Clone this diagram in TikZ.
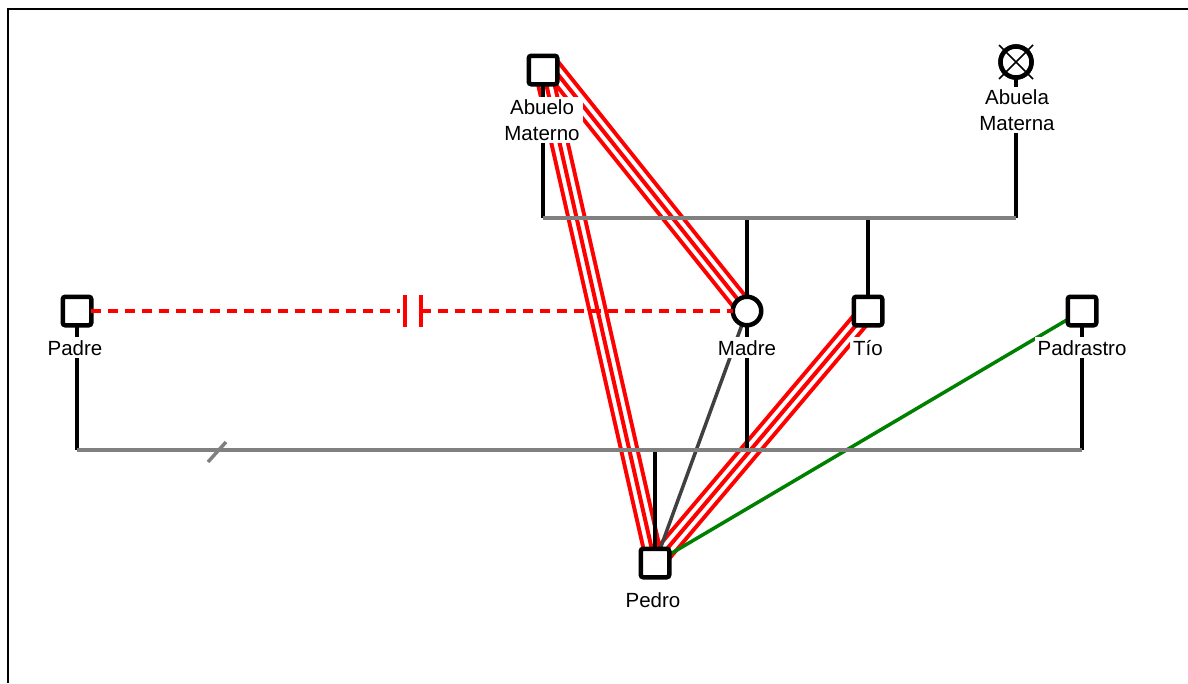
\documentclass[tikz,border=0pt]{standalone}
\usepackage{fontspec}
\setmainfont{Liberation Sans}
\begin{document}
\begin{tikzpicture}[x=1pt,y=-1pt,
  sq/.style={draw=black,fill=white,line width=4.5,minimum size=28.5,inner sep=0,rounded corners=2.5,outer sep=0},
  ci/.style={draw=black,fill=white,line width=4.5,circle,minimum size=28.5,inner sep=0,outer sep=0},
  lbl/.style={fill=white,inner sep=3,font=\fontsize{20.5}{25.5}\selectfont,align=center,anchor=base},
  famline/.style={draw=black,line width=4},
  unionline/.style={draw=gray,line width=4.5},
  tripleline/.style={preaction={draw=red,line width=20},preaction={draw=white,line width=12},draw=red,line width=4},
  cutline/.style={draw=red,line width=4,dash pattern=on 10 off 7},
  cutbar/.style={draw=red,line width=4.5},
  frameline/.style={draw=black,line width=2}
]
\useasboundingbox (0,0) rectangle (1188,683);
% frame
\coordinate (fbl) at (8,683);
\coordinate (ftl) at (8,9);
\coordinate (ftr) at (1188,9);
\draw[frameline] (fbl) -- (ftl) -- (ftr);

% helper coordinates
\coordinate (u1) at (0,218);
\coordinate (u2) at (0,450);
\coordinate (sl) at (217,452);
\coordinate (b1) at (405,311);
\coordinate (b2) at (421,311);

% person positions
\path (543,70) coordinate (pab) (1016,62) coordinate (paa) (77,311) coordinate (ppa)
      (747,311) coordinate (pma) (868,311) coordinate (pti) (1082,311) coordinate (ppd)
      (655,563) coordinate (ppe);

% relationship lines
\draw[tripleline] ([shift={(5,-8)}]pab) -- (pma);
\draw[tripleline] (pab) -- (ppe);
\draw[tripleline] (pti) -- (ppe);
\draw[draw=black!75,line width=3.5] (pma) -- (ppe);
\draw[draw=green!50!black,line width=3.5] (ppd) -- (ppe);

% family lines
\draw[famline] (pab) -- (pab |- u1);
\draw[famline] (paa) -- (paa |- u1);
\draw[famline] (pma |- u1) -- (pma);
\draw[famline] (pti |- u1) -- (pti);
\draw[unionline] (pab |- u1) -- (paa |- u1);
\draw[famline] (ppa) -- (ppa |- u2);
\draw[famline] (ppd) -- (ppd |- u2);
\draw[famline] (pma) -- (pma |- u2);
\draw[famline] (ppe) -- (ppe |- u2);
\draw[unionline] (ppa |- u2) -- (ppd |- u2);
\draw[draw=gray,line width=3.5] ([shift={(-9,10)}]sl) -- ([shift={(9,-10)}]sl);

% persons
\node[sq] (ab) at (pab) {};
\node[ci,minimum size=31] (aa) at (paa) {};
\draw[line width=1.5] ([shift={(-17,-17)}]aa.center) -- ([shift={(17,17)}]aa.center);
\draw[line width=1.5] ([shift={(17,-17)}]aa.center) -- ([shift={(-17,17)}]aa.center);
\node[ci,minimum size=31] at (paa) {};
\draw[line width=1.5] ([shift={(-12,-12)}]aa.center) -- ([shift={(12,12)}]aa.center);
\draw[line width=1.5] ([shift={(12,-12)}]aa.center) -- ([shift={(-12,12)}]aa.center);
\node[sq] (pa) at (ppa) {};
\node[ci] (ma) at (pma) {};
\node[sq] (ti) at (pti) {};
\node[sq] (pd) at (ppd) {};
\node[sq] (pe) at (ppe) {};

% cut-off relation
\draw[cutline] (pa.east) -- ([xshift=-5]b1);
\draw[cutline] (b2) -- (ma.west);
\draw[cutbar] ([yshift=-16]b1) -- ([yshift=16]b1);
\draw[cutbar] ([yshift=-16]b2) -- ([yshift=16]b2);

% labels
\node[lbl] (lab) at (542,140) {Abuelo\\Materno};
\node[lbl] (laa) at (1017,130) {Abuela\\Materna};
\node[lbl] (lpa) at (75,355) {Padre};
\node[lbl] (lma) at (747,355) {Madre};
\node[lbl] (lti) at (868,355) {Tío};
\node[lbl] (lpd) at (1082,355) {Padrastro};
\node[lbl] (lpe) at (653,607) {Pedro};
\end{tikzpicture}
\end{document}
